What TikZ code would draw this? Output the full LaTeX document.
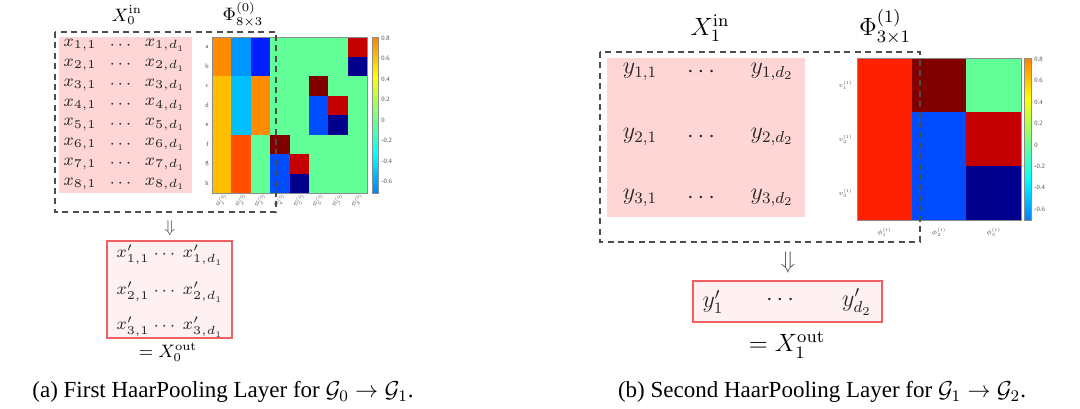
\RequirePackage{fix-cm}
\documentclass[tikz,border=0pt]{standalone}
\usepackage{amsmath}
\usepackage{amssymb}
\usepackage[no-math]{fontspec}
\setmainfont{Liberation Serif}
\usepackage{tikz}
\usetikzlibrary{positioning}
\definecolor{inpink}{RGB}{255, 214, 214}
\definecolor{outpink}{RGB}{255, 241, 241}
\definecolor{outred}{RGB}{240, 96, 96}
\definecolor{hmgreen}{RGB}{98, 255, 152}
\definecolor{hmorange}{RGB}{255, 140, 0}
\definecolor{hmamber}{RGB}{255, 190, 0}
\definecolor{hmsky}{RGB}{0, 150, 255}
\definecolor{hmcyan}{RGB}{0, 192, 255}
\definecolor{hmflame}{RGB}{255, 80, 0}
\definecolor{hmblue}{RGB}{0, 30, 255}
\definecolor{hmmid}{RGB}{0, 76, 255}
\definecolor{hmmaroon}{RGB}{128, 0, 0}
\definecolor{hmred}{RGB}{196, 0, 0}
\definecolor{hmnavy}{RGB}{0, 0, 140}
\definecolor{hmscarlet}{RGB}{255, 32, 0}
\definecolor{jet0}{RGB}{0, 0, 128}
\definecolor{jet1}{RGB}{0, 0, 255}
\definecolor{jet2}{RGB}{0, 255, 255}
\definecolor{jet3}{RGB}{255, 255, 0}
\definecolor{jet4}{RGB}{255, 0, 0}
\definecolor{jet5}{RGB}{128, 0, 0}
\pgfdeclareverticalshading{jet}{100bp}{%
    color(0bp)=(jet0); color(12.5bp)=(jet1); color(37.5bp)=(jet2);
    color(62.5bp)=(jet3); color(87.5bp)=(jet4); color(100bp)=(jet5)}

\begin{document}
\begin{tikzpicture}[x=0.5pt, y=-0.5pt,
    inbox/.style={draw=black!70, line width=0.6pt, dash pattern=on 3pt off 2.2pt},
    outbox/.style={draw=outred, fill=outpink, line width=1.4pt},
    frame/.style={draw=black!45, line width=0.3pt},
    lentry/.style={font=\fontsize{8.5}{9}\selectfont, text=black!85, inner sep=0pt},
    rentry/.style={font=\fontsize{12}{13}\selectfont, text=black!85, inner sep=0pt},
    llabel/.style={font=\fontsize{9}{10}\selectfont, inner sep=0pt},
    rlabel/.style={font=\fontsize{12.5}{13}\selectfont, inner sep=0pt},
    tick/.style={font=\fontsize{3.3}{3.5}\selectfont, text=black!70, inner sep=0pt, anchor=west},
    axlab/.style={font=\fontsize{3.3}{4}\selectfont, text=black!70, inner sep=0pt},
    caption/.style={font=\fontsize{11.5}{12}\selectfont, inner sep=0pt}
]

    \useasboundingbox (0, 0) rectangle (1080, 408);

    % first layer
    \fill[inpink] (59, 37) rectangle (192, 193);
    \foreach \i in {1,...,8} {%
        \node[lentry] (xa\i) at (80, 25.5+19.8*\i) {$x_{\i,1}$};
        \node[lentry] (xb\i) at (122, 25.5+19.8*\i) {$\cdots$};
        \node[lentry] (xc\i) at (165, 25.5+19.8*\i) {$x_{\i,d_1}$};
    };

    \fill[hmgreen] (212, 37) rectangle (367, 193);
    \foreach \ca/\ra/\cb/\rb/\clr in {%
            0/0/1/2/hmorange, 0/2/1/8/hmamber, 1/0/2/2/hmsky, 1/2/2/5/hmcyan,
            1/5/2/8/hmflame, 2/0/3/2/hmblue, 2/2/3/5/hmorange, 3/5/4/6/hmmaroon,
            3/6/4/8/hmmid, 4/6/5/7/hmred, 4/7/5/8/hmnavy, 5/2/6/3/hmmaroon,
            5/3/6/5/hmmid, 6/3/7/4/hmred, 6/4/7/5/hmnavy, 7/0/8/1/hmred,
            7/1/8/2/hmnavy} {%
        \fill[\clr] (212+19.375*\ca, 37+19.5*\ra) rectangle (212+19.375*\cb, 37+19.5*\rb);
    };
    \draw[frame] (212, 37) rectangle (367, 193);
    \foreach \r [count=\k] in {a,...,h} {%
        \node[axlab, anchor=east] (ra\k) at (209, 27.25+19.5*\k) {\r};
        \node[axlab, rotate=30] (ca\k) at (202.3+19.375*\k, 201) {$\phi^{(0)}_{\k}$};
    };

    \shade[shading=jet] (372, 37) rectangle (378, 193);
    \draw[frame] (372, 37) rectangle (378, 193);
    \foreach \v [count=\k] in {0.8, 0.6, 0.4, 0.2, 0, -0.2, -0.4, -0.6} {%
        \node[tick] (lt\k) at (381, {120-102.5*(\v)}) {\v};
    };

    \draw[inbox] (55, 32) rectangle (276, 212);
    \node[llabel] (xin0) at (127, 15) {$X_0^{\mathrm{in}}$};
    \node[llabel] (phi0) at (243, 15) {$\Phi^{(0)}_{8\times 3}$};

    \node[lentry, text=black!65] (arra) at (170, 228) {$\Downarrow$};
    \draw[outbox] (107, 241) rectangle (232, 338);
    \foreach \i/\yy in {1/255, 2/292, 3/327} {%
        \node[lentry] (oa\i) at (133, \yy) {$x'_{\i,1}$};
        \node[lentry] (ob\i) at (166, \yy) {$\cdots$};
        \node[lentry] (oc\i) at (203, \yy) {$x'_{\i,d_1}$};
    };
    \node[llabel] (xout0) at (168, 352) {$= X_0^{\mathrm{out}}$};

    \node[caption] (capa) at (223, 392)
        {(a) First HaarPooling Layer for $\mathcal{G}_0 \rightarrow \mathcal{G}_1$.};

    % second layer
    \fill[inpink] (607, 58) rectangle (805, 217);
    \foreach \i/\yy in {1/72, 2/137, 3/198} {%
        \node[rentry] (ya\i) at (640, \yy) {$y_{\i,1}$};
        \node[rentry] (yb\i) at (703, \yy) {$\cdots$};
        \node[rentry] (yc\i) at (772, \yy) {$y_{\i,d_2}$};
    };

    \foreach \ca/\ra/\cb/\rb/\clr in {%
            0/0/1/3/hmscarlet, 1/0/2/1/hmmaroon, 1/1/2/3/hmmid,
            2/0/3/1/hmgreen, 2/1/3/2/hmred, 2/2/3/3/hmnavy} {%
        \fill[\clr] (857+54.67*\ca, 58+54*\ra) rectangle (857+54.67*\cb, 58+54*\rb);
    };
    \draw[frame] (857, 58) rectangle (1021, 220);
    \foreach \k in {1, 2, 3} {%
        \node[axlab, anchor=east] (rb\k) at (853, 31+54*\k) {$v^{(1)}_{\k}$};
        \node[axlab] (cb\k) at (829.7+54.67*\k, 232) {$\phi^{(1)}_{\k}$};
    };

    \shade[shading=jet] (1024, 58) rectangle (1031, 220);
    \draw[frame] (1024, 58) rectangle (1031, 220);
    \foreach \v [count=\k] in {0.8, 0.6, 0.4, 0.2, 0, -0.2, -0.4, -0.6} {%
        \node[tick] (rt\k) at (1034, {145-107*(\v)}) {\v};
    };

    \draw[inbox] (600, 52) rectangle (920, 242);
    \node[rlabel] (xin1) at (710, 28) {$X_1^{\mathrm{in}}$};
    \node[rlabel] (phi1) at (885, 27) {$\Phi^{(1)}_{3\times 1}$};

    \node[rentry, text=black!65] (arrb) at (788, 262) {$\Downarrow$};
    \draw[outbox] (693, 281) rectangle (882, 322);
    \node[rentry] (pa) at (713, 302) {$y'_1$};
    \node[rentry] (pb) at (782, 300) {$\cdots$};
    \node[rentry] (pc) at (857, 302) {$y'_{d_2}$};
    \node[rlabel] (xout1) at (787, 345) {$= X_1^{\mathrm{out}}$};

    \node[caption] (capb) at (822, 392)
        {(b) Second HaarPooling Layer for $\mathcal{G}_1 \rightarrow \mathcal{G}_2$.};

\end{tikzpicture}
\end{document}
